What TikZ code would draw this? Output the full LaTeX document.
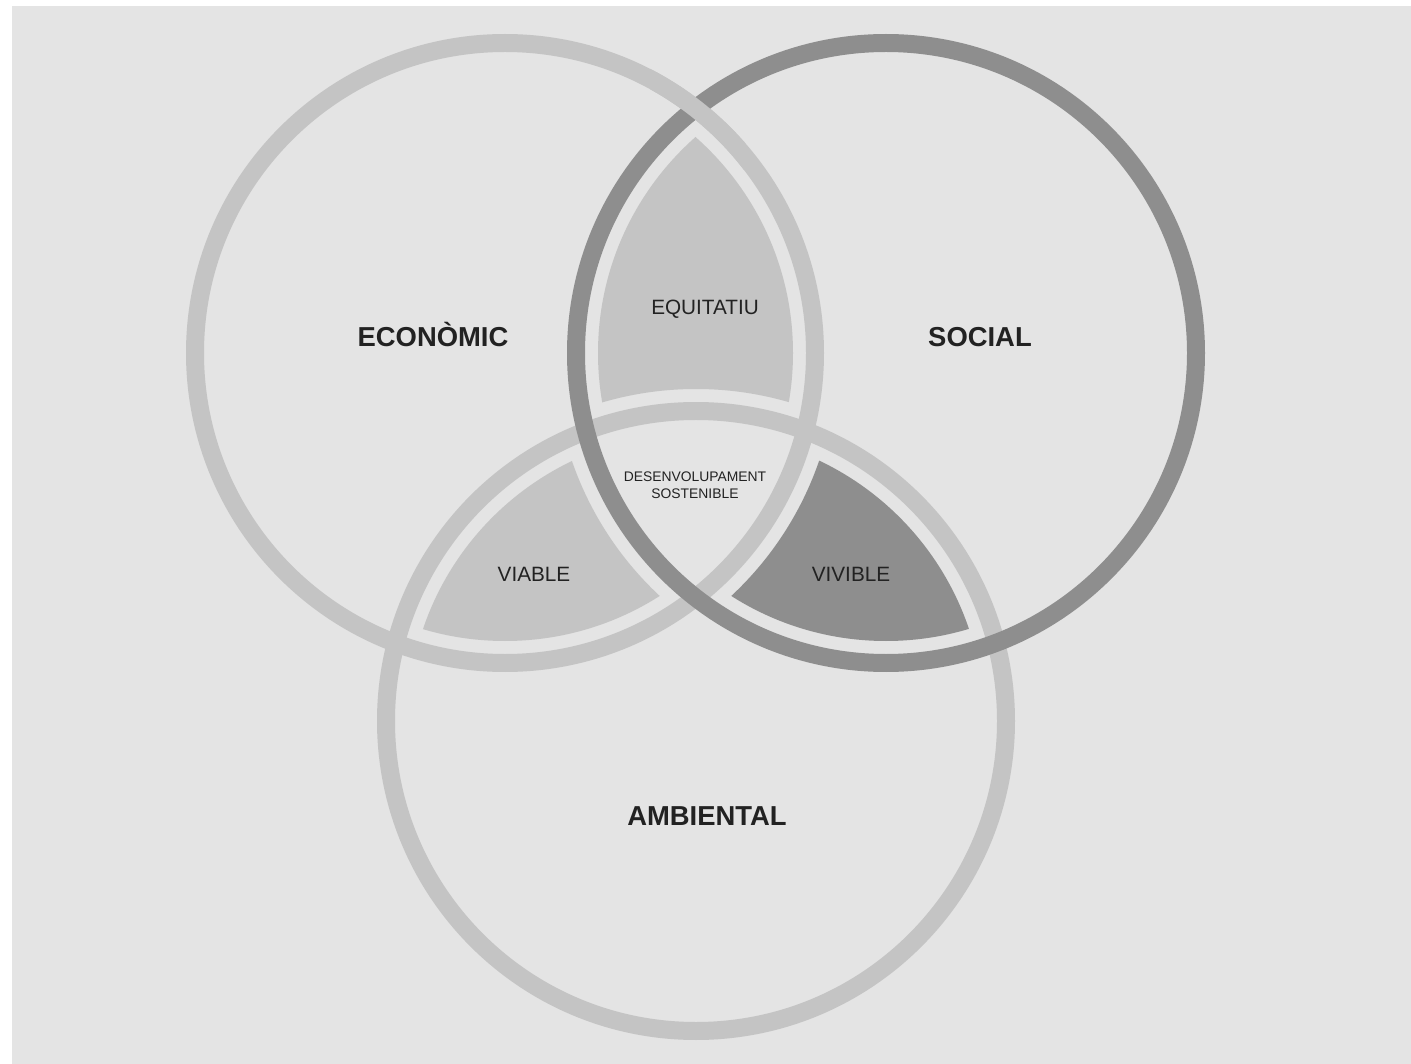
\documentclass[tikz,border=0pt]{standalone}
\usepackage{fontspec}
\setmainfont{Liberation Sans}
\usetikzlibrary{positioning}

\definecolor{bggray}{HTML}{E4E4E4}
\definecolor{lightring}{HTML}{C4C4C4}
\definecolor{darkring}{HTML}{8E8E8E}
\definecolor{labeltext}{HTML}{222222}

\begin{document}
\begin{tikzpicture}[x=0.02cm, y=-0.02cm,
  ring/.style={line width=0.36cm},
  areaname/.style={font=\bfseries\fontsize{15.6}{18}\selectfont, text=labeltext, anchor=base, inner sep=0pt},
  lensname/.style={font=\fontsize{11.8}{14}\selectfont, text=labeltext, anchor=base, inner sep=0pt},
  coretext/.style={font=\fontsize{7.9}{10}\selectfont, text=labeltext, anchor=base, inner sep=0pt}]
\useasboundingbox (0,0) rectangle (1411,1064);
\fill[white] (0,0) rectangle (1411,1064);
\fill[bggray] (12,6) rectangle (1411,1064);

\coordinate (eco) at (505,353);
\coordinate (soc) at (886,353);
\coordinate (amb) at (696,721);

\draw[ring, lightring] (amb) circle (310);
\draw[ring, lightring] (eco) circle (310);
\draw[ring, darkring] (soc) circle (310);
\begin{scope}
  \clip (650,60) rectangle (745,170);
  \draw[ring, lightring] (eco) circle (310);
\end{scope}

\begin{scope}
  \clip (eco) circle (288);
  \clip (soc) circle (288);
  \fill[lightring, even odd rule] (0,0) rectangle (1411,1064) (amb) circle (332);
\end{scope}
\begin{scope}
  \clip (eco) circle (288);
  \clip (amb) circle (288);
  \fill[lightring, even odd rule] (0,0) rectangle (1411,1064) (soc) circle (332);
\end{scope}
\begin{scope}
  \clip (soc) circle (288);
  \clip (amb) circle (288);
  \fill[darkring, even odd rule] (0,0) rectangle (1411,1064) (eco) circle (332);
\end{scope}

\node[areaname] (economic) at (433,347) {ECONÒMIC};
\node[areaname] (social) at (980,347) {SOCIAL};
\node[areaname] (ambiental) at (707,825) {AMBIENTAL};
\node[lensname] (equitatiu) at (705,315) {EQUITATIU};
\node[lensname] (viable) at (534,581) {VIABLE};
\node[lensname] (vivible) at (851,581) {VIVIBLE};
\node[coretext] (desenv) at (695,481) {DESENVOLUPAMENT};
\node[coretext] (sost) at (695,499) {SOSTENIBLE};
\end{tikzpicture}
\end{document}
